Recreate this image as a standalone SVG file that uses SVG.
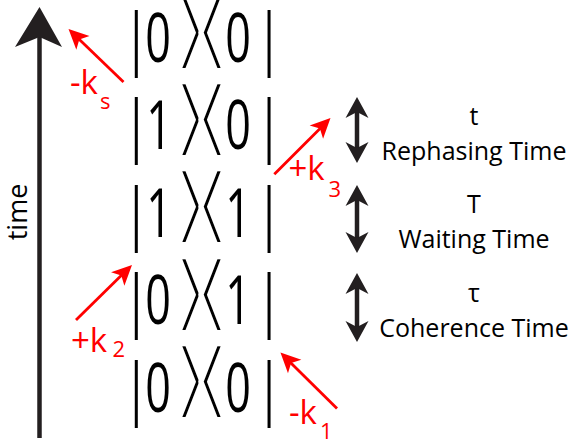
<svg xmlns="http://www.w3.org/2000/svg" width="573" height="440" viewBox="0 0 573 440">
<style>
.ket{font-family:"Open Sans","DejaVu Sans",sans-serif;font-size:67px;fill:#000;text-anchor:middle}
.br{font-family:"DejaVu Sans",sans-serif;font-size:84px;fill:#000;stroke:#fff;stroke-width:4.2;text-anchor:middle}
.lab{font-family:"Open Sans","Liberation Sans",sans-serif;font-size:25px;fill:#000;text-anchor:middle}
.k{font-family:"Open Sans","Liberation Sans",sans-serif;font-size:33px;fill:#ff0000}
.ks{font-size:22px}
.blk{stroke:#231f20;stroke-width:4.5;fill:none}
.dbl{stroke:#231f20;stroke-width:4.5;fill:none;marker-start:url(#hb);marker-end:url(#hb)}
.red{stroke:#ff0000;stroke-width:2.8;fill:none;marker-end:url(#hr)}
</style>
<defs>
<marker id="hb" viewBox="-24 -13 26 26" refX="-15" refY="0" markerWidth="26" markerHeight="26" markerUnits="userSpaceOnUse" orient="auto-start-reverse">
<path d="M0,0 L-21,-11.5 L-15,0 L-21,11.5 Z" fill="#231f20"/>
</marker>
<marker id="hr" viewBox="-22 -11 24 22" refX="-14" refY="0" markerWidth="24" markerHeight="22" markerUnits="userSpaceOnUse" orient="auto">
<path d="M0,0 L-20,-9.5 L-15,0 L-20,9.5 Z" fill="#ff0000"/>
</marker>
</defs>

<g id="time-axis">
<line class="blk" x1="39.5" y1="438" x2="39.5" y2="36"/>
<polygon points="39.5,7 15,47 39.5,37 62,47" fill="#231f20"/>
<text transform="translate(27,212) rotate(-90)" font-family="Open Sans, Liberation Sans, sans-serif" font-size="27" text-anchor="middle" fill="#000">time</text>
</g>

<g id="ket1">
<text class="ket" transform="scale(0.67,1)" y="62"><tspan x="203.4">|</tspan><tspan x="235.8">0</tspan><tspan x="355.2">0</tspan><tspan x="401.5">|</tspan></text>
<text class="br" transform="scale(1.257,1)" y="58.5"><tspan x="151.9">⟩</tspan><tspan x="168.7">⟨</tspan></text>
</g>
<g id="ket2">
<text class="ket" transform="scale(0.67,1)" y="149.5"><tspan x="203.4">|</tspan><tspan x="237.3">1</tspan><tspan x="355.2">0</tspan><tspan x="401.5">|</tspan></text>
<text class="br" transform="scale(1.257,1)" y="146"><tspan x="151.9">⟩</tspan><tspan x="168.7">⟨</tspan></text>
</g>
<g id="ket3">
<text class="ket" transform="scale(0.67,1)" y="237"><tspan x="203.4">|</tspan><tspan x="237.3">1</tspan><tspan x="355.2">1</tspan><tspan x="401.5">|</tspan></text>
<text class="br" transform="scale(1.257,1)" y="233.5"><tspan x="151.9">⟩</tspan><tspan x="168.7">⟨</tspan></text>
</g>
<g id="ket4">
<text class="ket" transform="scale(0.67,1)" y="324.5"><tspan x="203.4">|</tspan><tspan x="235.8">0</tspan><tspan x="355.2">1</tspan><tspan x="401.5">|</tspan></text>
<text class="br" transform="scale(1.257,1)" y="321"><tspan x="151.9">⟩</tspan><tspan x="168.7">⟨</tspan></text>
</g>
<g id="ket5">
<text class="ket" transform="scale(0.67,1)" y="412"><tspan x="203.4">|</tspan><tspan x="235.8">0</tspan><tspan x="355.2">0</tspan><tspan x="401.5">|</tspan></text>
<text class="br" transform="scale(1.257,1)" y="408.5"><tspan x="151.9">⟩</tspan><tspan x="168.7">⟨</tspan></text>
</g>

<g id="labels">
<text class="lab" x="474" y="125">t</text>
<text class="lab" x="474" y="160">Rephasing Time</text>
<text class="lab" x="474" y="213">T</text>
<text class="lab" x="474" y="248">Waiting Time</text>
<text class="lab" x="474" y="302">τ</text>
<text class="lab" x="474" y="337">Coherence Time</text>
</g>

<g id="k-labels">
<text class="k" x="70" y="94">-k</text><text class="k ks" x="100" y="108.5">s</text>
<text class="k" x="71" y="351.5">+k</text><text class="k ks" x="112.5" y="357">2</text>
<text class="k" x="288.5" y="180">+k</text><text class="k ks" x="328.5" y="197">3</text>
<text class="k" x="289" y="423.5">-k</text><text class="k ks" x="320" y="439">1</text>
</g>

<g id="connectors">
<line class="dbl" x1="357" y1="112" x2="357" y2="148"/>
<line class="dbl" x1="357" y1="200" x2="357" y2="238"/>
<line class="dbl" x1="357" y1="288" x2="357" y2="327"/>
<line class="red" x1="123.5" y1="82" x2="78.6" y2="38.7"/>
<line class="red" x1="76" y1="320" x2="122" y2="274.8"/>
<line class="red" x1="274.3" y1="174.3" x2="320.6" y2="127.9"/>
<line class="red" x1="337" y1="408.5" x2="290.4" y2="362.4"/>
</g>
</svg>
